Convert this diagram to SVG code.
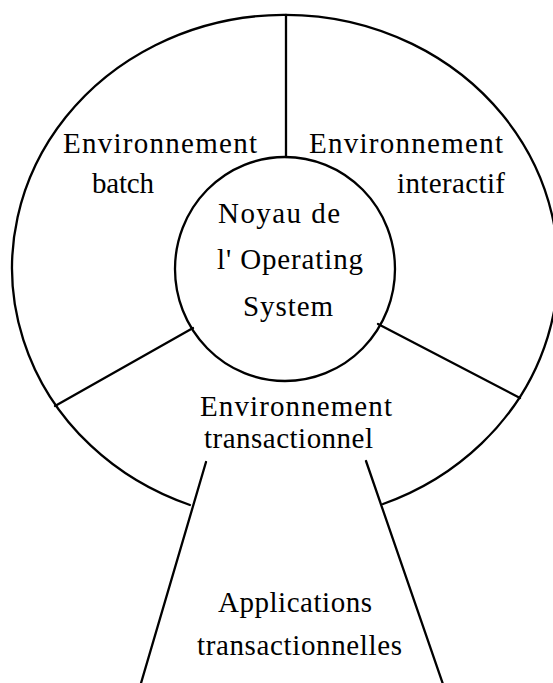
<svg xmlns="http://www.w3.org/2000/svg" width="553" height="683" viewBox="0 0 553 683">
<style>
.ln{fill:none;stroke:#000;stroke-width:2.3;stroke-linecap:round;stroke-linejoin:round}
.t{font-family:"Liberation Serif","Times New Roman",serif;font-size:29px;fill:#000}
</style>
<rect width="553" height="683" fill="#fff"/>
<g id="outer-ring">
<path class="ln" d="M190,505 A273,253 0 1 1 383,504"/>
</g>
<g id="connectors">
<line class="ln" x1="286" y1="15" x2="286" y2="157"/>
<line class="ln" x1="193" y1="328" x2="55" y2="406"/>
<line class="ln" x1="378" y1="324" x2="520" y2="398"/>
<line class="ln" x1="206" y1="462" x2="139" y2="690"/>
<line class="ln" x1="366" y1="461" x2="445" y2="690"/>
</g>
<g id="env-batch">
<text class="t" x="63" y="153" textLength="194" lengthAdjust="spacing">Environnement</text>
<text class="t" x="92" y="193" textLength="62" lengthAdjust="spacing">batch</text>
</g>
<g id="env-interactif">
<text class="t" x="309" y="153" textLength="194" lengthAdjust="spacing">Environnement</text>
<text class="t" x="397" y="193" textLength="108" lengthAdjust="spacing">interactif</text>
</g>
<g id="noyau">
<ellipse class="ln" cx="285" cy="269" rx="110" ry="112"/>
<text class="t" x="218" y="223" textLength="122" lengthAdjust="spacing">Noyau de</text>
<text class="t" x="217" y="269" textLength="146" lengthAdjust="spacing">l' Operating</text>
<text class="t" x="243" y="316" textLength="90" lengthAdjust="spacing">System</text>
</g>
<g id="env-transactionnel">
<text class="t" x="200" y="416" textLength="192" lengthAdjust="spacing">Environnement</text>
<text class="t" x="204" y="448" textLength="169" lengthAdjust="spacing">transactionnel</text>
</g>
<g id="applications">
<text class="t" x="218" y="612" textLength="154" lengthAdjust="spacing">Applications</text>
<text class="t" x="197" y="655" textLength="205" lengthAdjust="spacing">transactionnelles</text>
</g>
</svg>
